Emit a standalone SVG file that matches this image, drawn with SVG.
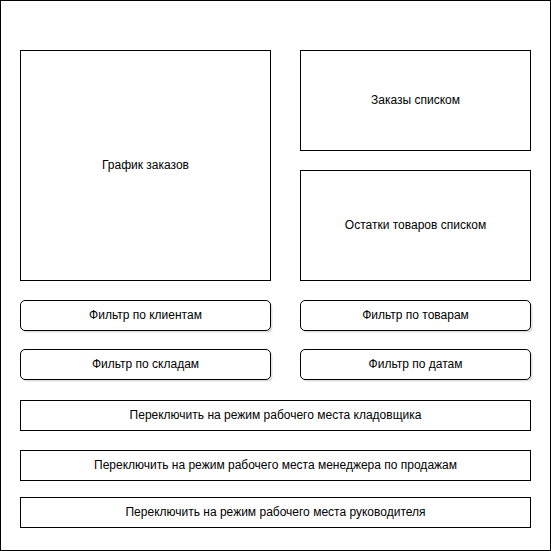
<svg xmlns="http://www.w3.org/2000/svg" width="551" height="551" viewBox="0 0 551 551">
<defs>
<style>
.box{fill:#ffffff;stroke:#000000;stroke-width:1}
.btn{fill:#ffffff;stroke:#000000;stroke-width:1}
.shadow{fill:#cccccc;opacity:0.6}
.lbl{font-family:"Liberation Sans",Arial,sans-serif;font-size:12px;fill:#000000;text-anchor:middle;dominant-baseline:central}
</style>
</defs>
<rect width="551" height="551" fill="#ffffff"/>
<g id="frame"><rect class="box" x="0.5" y="0.5" width="550" height="550"/></g>
<g id="chart"><rect class="box" x="20.5" y="50.5" width="250" height="230"/><text class="lbl" x="145.5" y="164.5">График заказов</text></g>
<g id="orders-list"><rect class="box" x="300.5" y="50.5" width="230" height="100"/><text class="lbl" x="415.5" y="99.5">Заказы списком</text></g>
<g id="stock-list"><rect class="box" x="300.5" y="170.5" width="230" height="110"/><text class="lbl" x="415.5" y="224.5">Остатки товаров списком</text></g>
<g id="filter-clients"><rect class="shadow" x="22.5" y="302.5" width="250" height="30" rx="4.5"/><rect class="btn" x="20.5" y="300.5" width="250" height="30" rx="4.5"/><text class="lbl" x="145.5" y="314.5">Фильтр по клиентам</text></g>
<g id="filter-goods"><rect class="shadow" x="302.5" y="302.5" width="230" height="30" rx="4.5"/><rect class="btn" x="300.5" y="300.5" width="230" height="30" rx="4.5"/><text class="lbl" x="415.5" y="314.5">Фильтр по товарам</text></g>
<g id="filter-warehouses"><rect class="shadow" x="22.5" y="351.5" width="250" height="30" rx="4.5"/><rect class="btn" x="20.5" y="349.5" width="250" height="30" rx="4.5"/><text class="lbl" x="145.5" y="363.5">Фильтр по складам</text></g>
<g id="filter-dates"><rect class="shadow" x="302.5" y="351.5" width="230" height="30" rx="4.5"/><rect class="btn" x="300.5" y="349.5" width="230" height="30" rx="4.5"/><text class="lbl" x="415.5" y="363.5">Фильтр по датам</text></g>
<g id="switch-storekeeper"><rect class="box" x="20.5" y="400.5" width="510" height="30"/><text class="lbl" x="275.5" y="414.5">Переключить на режим рабочего места кладовщика</text></g>
<g id="switch-sales"><rect class="box" x="20.5" y="450.5" width="510" height="30"/><text class="lbl" x="275.5" y="464.5">Переключить на режим рабочего места менеджера по продажам</text></g>
<g id="switch-head"><rect class="box" x="20.5" y="497.5" width="510" height="30"/><text class="lbl" x="275.5" y="511.5">Переключить на режим рабочего места руководителя</text></g>
<g id="connectors"></g>
</svg>
